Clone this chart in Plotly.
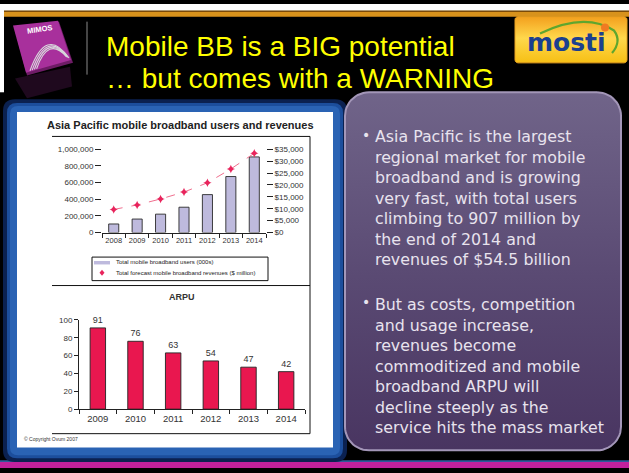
import plotly.graph_objects as go
import numpy as np

W, H = 629, 473

# ---------------- data ----------------
user_years = ["2008", "2009", "2010", "2011", "2012", "2013", "2014"]
users_000s = [103000, 162000, 221000, 304000, 455000, 672000, 907000]
revenue_musd = [9700, 11600, 14100, 17000, 20900, 26700, 33300]
users_tickvals = [0, 200000, 400000, 600000, 800000, 1000000]
users_ticktext = ["0", "200,000", "400,000", "600,000", "800,000", "1,000,000"]
revenue_tickvals = [0, 5000, 10000, 15000, 20000, 25000, 30000, 35000]
revenue_ticktext = ["$0", "$5,000", "$10,000", "$15,000", "$20,000", "$25,000", "$30,000", "$35,000"]

arpu_years = ["2009", "2010", "2011", "2012", "2013", "2014"]
arpu_values = [91, 76, 63, 54, 47, 42]
arpu_tickvals = [0, 20, 40, 60, 80, 100]

title_lines = ["Mobile BB is a BIG potential", "\u2026 but comes with a WARNING"]
chart1_title = "Asia Pacific mobile broadband users and revenues"
chart2_title = "ARPU"
legend_labels = ["Total mobile broadband users (000s)",
                 "Total forecast mobile broadband revenues ($ million)"]
bullet1_lines = ["Asia Pacific is the largest", "regional market for mobile",
                 "broadband and is growing", "very fast, with total users",
                 "climbing to 907 million by", "the end of 2014 and",
                 "revenues of $54.5 billion"]
bullet2_lines = ["But as costs, competition", "and usage increase,",
                 "revenues become", "commoditized and mobile",
                 "broadband ARPU will", "decline steeply as the",
                 "service hits the mass market"]
source_note = "\u00a9 Copyright Ovum 2007"


# ---------------- helpers (pixel -> paper) ----------------
def fx(x):
    return x / W


def fy(y):
    return 1 - y / H


def pt(x, y):
    return f"{fx(x):.5f},{fy(y):.5f}"


def rrect_path(x0, y0, x1, y1, r):
    return (f"M{pt(x0 + r, y0)} L{pt(x1 - r, y0)} Q{pt(x1, y0)} {pt(x1, y0 + r)} "
            f"L{pt(x1, y1 - r)} Q{pt(x1, y1)} {pt(x1 - r, y1)} L{pt(x0 + r, y1)} "
            f"Q{pt(x0, y1)} {pt(x0, y1 - r)} L{pt(x0, y0 + r)} Q{pt(x0, y0)} {pt(x0 + r, y0)} Z")


def rrect_poly(x0, y0, x1, y1, r, n=14):
    xs, ys = [], []
    corners = [(x1 - r, y0 + r, -np.pi / 2, 0), (x1 - r, y1 - r, 0, np.pi / 2),
               (x0 + r, y1 - r, np.pi / 2, np.pi), (x0 + r, y0 + r, np.pi, 1.5 * np.pi)]
    for cx, cy, a0, a1 in corners:
        t = np.linspace(a0, a1, n)
        xs += list(cx + r * np.cos(t))
        ys += list(cy + r * np.sin(t))
    xs.append(xs[0])
    ys.append(ys[0])
    return xs, ys


def rect(x0, y0, x1, y1, fill, line=None, lw=0, layer="below"):
    return dict(type="rect", xref="paper", yref="paper", x0=fx(x0), x1=fx(x1),
                y0=fy(y1), y1=fy(y0), fillcolor=fill,
                line=dict(width=lw, color=line or fill), layer=layer)


def seg(x0, y0, x1, y1, color="#111", lw=1, layer="above"):
    return dict(type="line", xref="paper", yref="paper", x0=fx(x0), x1=fx(x1),
                y0=fy(y0), y1=fy(y1), line=dict(color=color, width=lw), layer=layer)


def path(p, fill=None, line="rgba(0,0,0,0)", lw=0, layer="below", opacity=1):
    d = dict(type="path", xref="paper", yref="paper", path=p,
             line=dict(color=line, width=lw), layer=layer, opacity=opacity)
    if fill:
        d["fillcolor"] = fill
    return d


def ann(text, x, y, size, color, family="Liberation Sans", xanchor="left",
        yanchor="middle", angle=0, align="left"):
    return dict(text=text, x=fx(x), y=fy(y), xref="paper", yref="paper",
                showarrow=False, xanchor=xanchor, yanchor=yanchor, textangle=angle,
                align=align, font=dict(size=size, color=color, family=family))


fig = go.Figure()

# ---------------- chart 1: users bars + revenue line ----------------
fig.add_trace(go.Bar(x=user_years, y=users_000s, xaxis="x", yaxis="y", width=0.43,
                     marker=dict(color="#BEBADD", line=dict(color="#2a2a2a", width=0.9)),
                     showlegend=False, hoverinfo="skip"))
fig.add_trace(go.Scatter(x=user_years, y=revenue_musd, xaxis="x", yaxis="y2",
                         mode="lines+markers",
                         line=dict(color="#F0708F", width=1, dash="dash"),
                         marker=dict(symbol="star-diamond", size=6, color="#E8245C"),
                         showlegend=False, hoverinfo="skip", cliponaxis=False))

# ---------------- chart 2: ARPU ----------------
fig.add_trace(go.Bar(x=arpu_years, y=arpu_values, xaxis="x3", yaxis="y3", width=0.41,
                     marker=dict(color="#E9174F", line=dict(color="#222", width=0.9)),
                     text=[str(v) for v in arpu_values], textposition="outside",
                     textfont=dict(size=9, color="#333", family="Liberation Sans"),
                     cliponaxis=False, showlegend=False, hoverinfo="skip"))

# ---------------- decorative gradient panels ----------------
px_, py_ = rrect_poly(345, 90, 621, 455, 24)
fig.add_trace(go.Scatter(x=px_, y=py_, xaxis="x4", yaxis="y4", mode="lines", fill="toself",
                         fillgradient=dict(type="vertical",
                                           colorscale=[[0, "#706489"], [0.5, "#5A4A73"], [1, "#483460"]],
                                           start=90, stop=455),
                         line=dict(color="#A396B8", width=2),
                         showlegend=False, hoverinfo="skip"))
mx, my = rrect_poly(515, 13, 627, 60, 3, n=4)
fig.add_trace(go.Scatter(x=mx, y=my, xaxis="x4", yaxis="y4", mode="lines", fill="toself",
                         fillgradient=dict(type="vertical",
                                           colorscale=[[0, "#F3A01E"], [0.45, "#FFD84C"], [1, "#F6BE12"]],
                                           start=13, stop=60),
                         line=dict(color="#E8A020", width=1),
                         showlegend=False, hoverinfo="skip"))

axis_font = dict(size=8, color="#333", family="Liberation Sans")

shapes = []
# page background pieces
shapes.append(rect(0, 0, W, 7, "#FFFFFF"))
shapes.append(rect(0, 0, 4, 90, "#FFFFFF"))
shapes.append(rect(4, 7, W, 13, "#D8921C"))
shapes.append(rect(4, 7, W, 8.2, "#7A4A08"))
shapes.append(rect(0, 465, W, 467, "#2E5A9A"))
shapes.append(rect(0, 467, W, H, "#C2219C"))

# left blue frame + white panel
shapes.append(path(rrect_path(3, 97, 347, 467, 12), fill="#0B2150"))
shapes.append(path(rrect_path(7, 101, 343, 463, 10), fill="#1C4E9C"))
shapes.append(path(rrect_path(10, 104, 340, 460, 8), fill="#2A63B4"))
shapes.append(rect(17, 110, 333, 452, "#FFFFFF"))

# chart boxes
shapes.append(seg(52, 135, 310, 135))
shapes.append(seg(310, 135, 310, 438))
shapes.append(seg(52, 287, 310, 287))
shapes.append(seg(52, 438, 310, 438))
# legend box
shapes.append(dict(type="rect", xref="paper", yref="paper", x0=fx(92), x1=fx(268),
                   y0=fy(282), y1=fy(258), line=dict(color="#111", width=1), layer="above"))
shapes.append(rect(94, 262, 110, 265.5, "#BEBADD", layer="above"))
shapes.append(path(f"M{pt(102, 271)} L{pt(104.5, 274)} L{pt(102, 277)} L{pt(99.5, 274)} Z",
                   fill="#E8245C", layer="above"))

# MIMOS logo
shapes.append(path(f"M{pt(15, 76)} L{pt(27, 96)} L{pt(72, 84)} L{pt(70, 64)} Z",
                   fill="#5A1A55", opacity=0.35))
shapes.append(path(f"M{pt(14, 23)} L{pt(59, 18)} L{pt(73, 60)} L{pt(27, 73)} Z",
                   fill="#6E1C66"))
shapes.append(path(f"M{pt(13, 22)} L{pt(58, 17)} L{pt(71, 57)} L{pt(26, 70)} Z",
                   fill="#A8309C"))
for i in range(4):
    d = i * 2.2
    shapes.append(path(f"M{pt(30 + d, 68 - d * 0.3)} Q{pt(46 + d * 0.3, 22 + d * 1.6)} {pt(69 - d * 0.4, 55 - d * 0.2)}",
                       line="#D8D8DC", lw=1.1, layer="above"))
shapes.append(seg(87, 18, 87, 72, color="#8A8A8A", lw=1))

# MOSTI logo decorations
shapes.append(path(f"M{pt(540, 30)} Q{pt(585, 8)} {pt(614, 27)} Q{pt(622, 38)} {pt(612, 50)}",
                   line="#5EA62E", lw=2.2, layer="above"))
shapes.append(dict(type="circle", xref="paper", yref="paper", x0=fx(601), x1=fx(609),
                   y0=fy(28), y1=fy(20), fillcolor="#F07A22", line=dict(width=0), layer="above"))

annotations = []
# titles
annotations.append(ann(title_lines[0], 104, 43, 28, "#FFFF00"))
annotations.append(ann(title_lines[1], 104, 76, 28, "#FFFF00"))
annotations.append(ann("<b>mosti</b>", 566, 39, 25, "#1B3F8F", family="DejaVu Sans", xanchor="center"))
annotations.append(ann("<b>MIMOS</b>", 39, 26, 7.5, "#FFFFFF", angle=-8, xanchor="center"))

# chart titles
annotations.append(ann("<b>" + chart1_title + "</b>", 180, 123, 11, "#222", xanchor="center"))
annotations.append(ann("<b>" + chart2_title + "</b>", 182, 299, 9, "#333", xanchor="center"))
annotations.append(ann(legend_labels[0], 114, 263.5, 6, "#222"))
annotations.append(ann(legend_labels[1], 114, 274.5, 6, "#222"))
annotations.append(ann(source_note, 22, 443, 5, "#333"))

# text panel (one annotation per paragraph)
tfont = "DejaVu Sans"
tcol = "#E8E3EE"
tsize = 15.8
annotations.append(ann("<br>".join(bullet1_lines), 373, 123, tsize, tcol, family=tfont,
                       yanchor="top"))
annotations.append(ann("<br>".join(bullet2_lines), 373, 295, tsize, tcol, family=tfont,
                       yanchor="top"))
annotations.append(ann("\u2022", 366, 134, 14, tcol, family=tfont, xanchor="center"))
annotations.append(ann("\u2022", 366, 304, 14, tcol, family=tfont, xanchor="center"))

fig.update_layout(
    width=W, height=H, margin=dict(l=0, r=0, t=0, b=0),
    paper_bgcolor="#000000", plot_bgcolor="rgba(0,0,0,0)",
    showlegend=False, shapes=shapes, annotations=annotations,
    xaxis=dict(domain=[fx(102), fx(266)], anchor="y", type="category", range=[-0.5, 6.5],
               showline=True, linecolor="#222", linewidth=1, ticks="outside",
               tickson="boundaries", ticklen=4, tickcolor="#222",
               tickfont=dict(size=7.5, color="#333", family="Liberation Sans"),
               tickangle=0, showgrid=False, zeroline=False, fixedrange=True),
    yaxis=dict(domain=[fy(233), fy(148)], anchor="x", range=[0, 1000000],
               tickvals=users_tickvals, ticktext=users_ticktext, ticks="outside",
               ticklen=6, tickcolor="#222", tickfont=axis_font, showline=False,
               showgrid=False, zeroline=False, fixedrange=True),
    yaxis2=dict(overlaying="y", side="right", anchor="x", range=[0, 35000],
                tickvals=revenue_tickvals, ticktext=revenue_ticktext, ticks="outside",
                ticklen=6, tickcolor="#222", tickfont=axis_font, showline=False,
                showgrid=False, zeroline=False, fixedrange=True),
    xaxis3=dict(domain=[fx(79), fx(305)], anchor="y3", type="category", range=[-0.5, 5.5],
                showline=True, linecolor="#222", linewidth=1, ticks="outside",
                tickson="boundaries", ticklen=4, tickcolor="#222",
                tickfont=dict(size=9.5, color="#333", family="Liberation Sans"),
                tickangle=0, showgrid=False, zeroline=False, fixedrange=True),
    yaxis3=dict(domain=[fy(413), fy(322)], anchor="x3", range=[0, 100],
                tickvals=arpu_tickvals, ticks="outside", ticklen=4, tickcolor="#222",
                showline=True, linecolor="#222", linewidth=1, tickfont=axis_font,
                showgrid=False, zeroline=False, fixedrange=True),
    xaxis4=dict(domain=[0, 1], anchor="y4", range=[0, W], visible=False, fixedrange=True),
    yaxis4=dict(domain=[0, 1], anchor="x4", range=[H, 0], visible=False, fixedrange=True),
)

fig.write_html("out.html")
